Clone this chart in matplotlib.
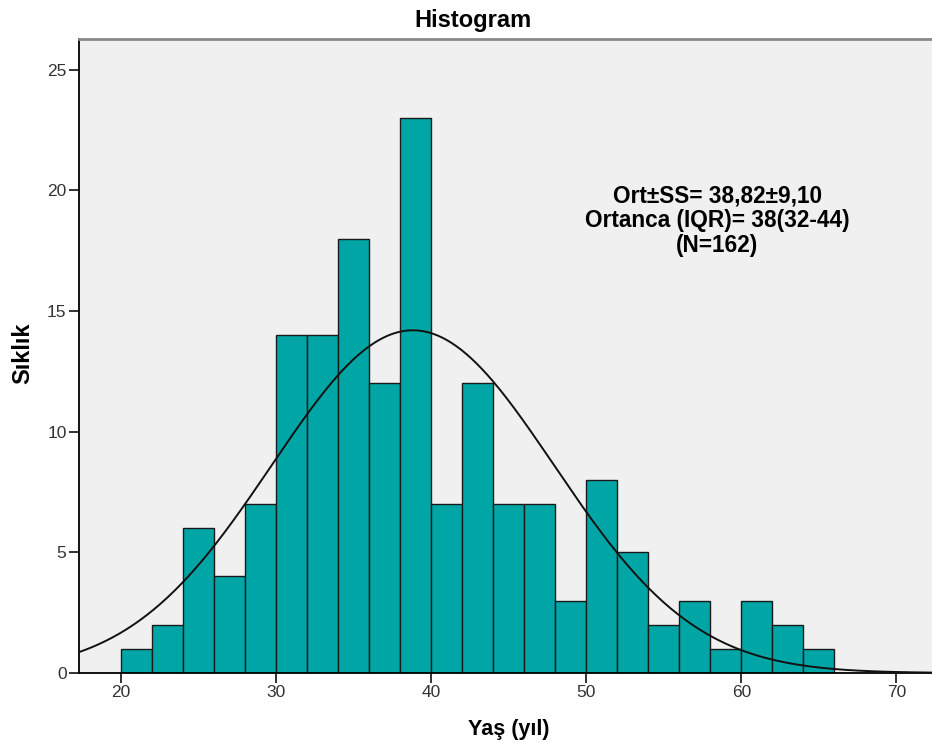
import numpy as np
import matplotlib
matplotlib.use("Agg")
import matplotlib.pyplot as plt

bin_edges = [20, 22, 24, 26, 28, 30, 32, 34, 36, 38, 40, 42, 44, 46, 48, 50,
             52, 54, 56, 58, 60, 62, 64, 66]
counts = [1, 2, 6, 4, 7, 14, 14, 18, 12, 23, 7, 12, 7, 7, 3, 8, 5, 2, 3, 1, 3, 2, 1]
mean_val = 38.82
sd_val = 9.10
n_total = 162
x_ticks = [20, 30, 40, 50, 60, 70]
y_ticks = [0, 5, 10, 15, 20, 25]

plt.rcParams['font.family'] = ['Liberation Sans', 'DejaVu Sans']

fig = plt.figure(figsize=(9.32, 7.49), dpi=100)
ax = fig.add_axes([0.0848, 0.1015, 0.9152, 0.8465])
ax.set_facecolor('#F0F0F0')

widths = np.diff(bin_edges)
ax.bar(bin_edges[:-1], counts, width=widths, align='edge', color='#00A6A6',
       edgecolor='#1a1a1a', linewidth=1.0, zorder=2)

xs = np.linspace(17.29, 72.3, 500)
binw = widths[0]
ys = n_total * binw / (sd_val * np.sqrt(2 * np.pi)) * np.exp(-0.5 * ((xs - mean_val) / sd_val) ** 2)
ax.plot(xs, ys, color='#111111', linewidth=1.4, zorder=3)

ax.set_xlim(17.29, 72.3)
ax.set_ylim(0, 26.28)
ax.set_xticks(x_ticks)
ax.set_yticks(y_ticks)
ax.tick_params(axis='both', direction='out', length=7, width=1.3, labelsize=12.5,
               labelcolor='#333333', color='#222222', pad=2)

ax.spines['right'].set_visible(False)
ax.spines['top'].set_color('#888888')
ax.spines['top'].set_linewidth(2)
ax.spines['left'].set_linewidth(1.3)
ax.spines['bottom'].set_linewidth(1.3)

fig.text(473 / 932, 1 - 20 / 749, 'Histogram', ha='center', va='center',
         fontsize=17, fontweight='bold')
fig.text(509 / 932, 1 - 730 / 749, 'Yaş (yıl)', ha='center', va='center',
         fontsize=15.5, fontweight='bold')
fig.text(23 / 932, 1 - 353 / 749, 'Sıklık', ha='center', va='center',
         rotation=90, fontsize=17, fontweight='bold')

ax.text(58.45, 18.75, 'Ort±SS= 38,82±9,10\nOrtanca (IQR)= 38(32-44)\n(N=162)',
        ha='center', va='center', fontsize=16.3, fontweight='bold',
        linespacing=1.08, zorder=4)

fig.savefig('out.png', dpi=100)
